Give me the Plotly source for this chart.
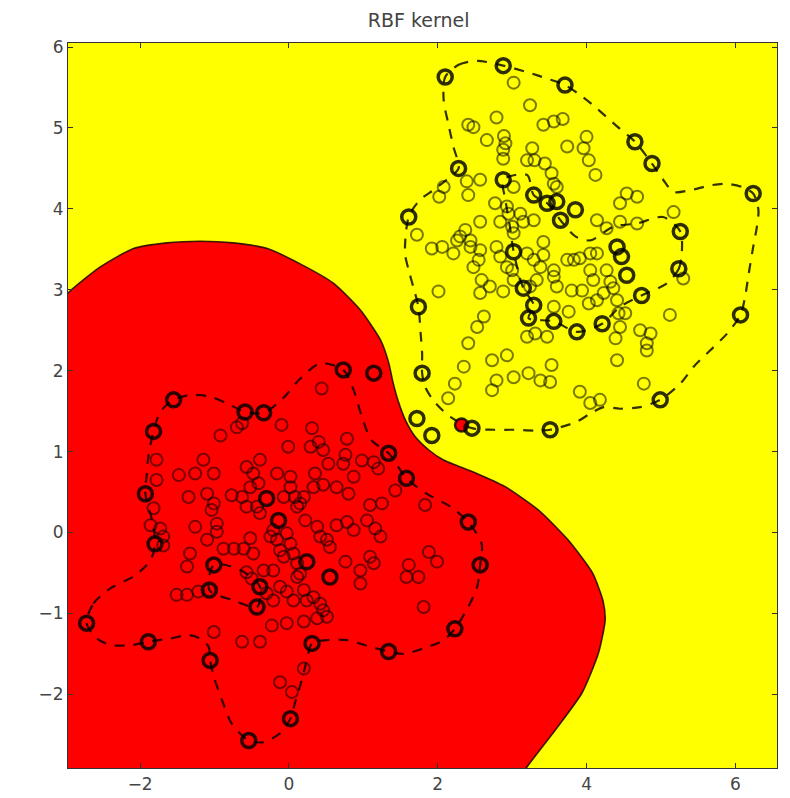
import plotly.graph_objects as go

# ---------------- data ----------------
# decision boundary (level 0), from left edge to bottom edge
boundary_x = [-3.30, -2.97, -2.54, -2.09, -1.64, -1.19, -0.75, -0.29, 0.15, 0.60, 0.96, 1.23,
              1.34, 1.40, 1.47, 1.57, 1.70, 1.88, 2.07, 2.50, 2.90, 3.35, 3.75, 4.08, 4.22,
              4.25, 4.16, 3.94, 3.58, 3.22, 3.05]
boundary_y = [2.60, 2.96, 3.28, 3.51, 3.58, 3.60, 3.58, 3.51, 3.32, 3.08, 2.75, 2.38,
              2.10, 1.85, 1.62, 1.38, 1.18, 1.02, 0.90, 0.74, 0.57, 0.28, -0.09, -0.50, -0.84,
              -1.08, -1.49, -1.98, -2.44, -2.87, -3.10]
corner_x = [-4.5, -4.5]
corner_y = [-4.5, 2.60]

# margin contours (dashed)
yel_outer_x = [2.10, 2.28, 2.53, 2.88, 3.20, 3.47, 3.71, 3.91, 4.14, 4.41, 4.65, 4.88, 5.03, 5.17,
               5.39, 5.66, 5.89, 6.09, 6.24, 6.31, 6.29, 6.24, 6.18, 6.13, 6.07, 5.89, 5.66, 5.44,
               5.26, 4.99, 4.72, 4.45, 4.23, 4.05, 3.87, 3.51, 3.29, 3.02, 2.75, 2.46, 2.17, 1.97,
               1.83, 1.79, 1.79, 1.77, 1.74, 1.67, 1.61, 1.56, 1.61, 1.76, 1.94, 2.12, 2.28, 2.21,
               2.14, 2.08, 2.10]
yel_outer_y = [5.63, 5.78, 5.83, 5.77, 5.69, 5.61, 5.53, 5.41, 5.24, 5.02, 4.83, 4.56, 4.36, 4.21,
               4.23, 4.29, 4.31, 4.27, 4.19, 3.99, 3.78, 3.53, 3.20, 2.91, 2.69, 2.46, 2.25, 2.05,
               1.84, 1.64, 1.55, 1.53, 1.55, 1.47, 1.37, 1.27, 1.26, 1.27, 1.27, 1.29, 1.43, 1.60,
               1.80, 1.97, 2.21, 2.46, 2.79, 3.04, 3.24, 3.45, 3.90, 4.11, 4.23, 4.36, 4.50, 4.77,
               5.06, 5.34, 5.63]
yel_inner_x = [5.28, 5.24, 5.08, 4.74, 4.45, 4.21, 3.87, 3.56, 3.22, 3.29, 3.15, 3.02, 2.97, 2.91,
               2.88, 3.20, 3.29, 3.47, 3.65, 3.85, 4.05, 4.36, 4.68, 5.03, 5.26, 5.28]
yel_inner_y = [3.45, 3.26, 3.08, 2.93, 2.79, 2.58, 2.48, 2.61, 2.65, 2.81, 3.02, 3.47, 3.78, 4.11,
               4.36, 4.42, 4.17, 4.07, 3.86, 3.66, 3.61, 3.78, 3.82, 3.90, 3.72, 3.45]
red_outer_x = [-2.72, -2.63, -2.40, -2.07, -1.86, -1.80, -1.84, -1.93, -1.91, -1.89, -1.82, -1.73,
               -1.55, -1.33, -1.06, -0.84, -0.59, -0.34, -0.10, 0.15, 0.42, 0.73, 0.87, 0.98, 1.11,
               1.34, 1.58, 1.85, 2.17, 2.41, 2.59, 2.57, 2.53, 2.41, 2.23, 2.08, 1.81, 1.54, 1.34,
               1.09, 0.78, 0.51, 0.31, 0.24, 0.17, 0.08, 0.02, -0.12, -0.34, -0.54, -0.77, -0.90,
               -1.01, -1.06, -1.08, -1.24, -1.37, -1.60, -1.89, -2.11, -2.40, -2.58, -2.72]
red_outer_y = [-1.12, -0.88, -0.69, -0.53, -0.34, -0.14, 0.15, 0.48, 0.73, 0.94, 1.25, 1.49,
               1.64, 1.70, 1.68, 1.60, 1.49, 1.48, 1.64, 1.90, 2.09, 2.01, 1.76, 1.43, 1.14,
               0.98, 0.67, 0.48, 0.32, 0.13, -0.14, -0.40, -0.67, -0.92, -1.19, -1.33, -1.43, -1.50,
               -1.47, -1.41, -1.33, -1.33, -1.37, -1.58, -1.83, -2.11, -2.30, -2.48, -2.59, -2.57,
               -2.36, -2.07, -1.78, -1.58, -1.41, -1.29, -1.27, -1.31, -1.35, -1.39, -1.39, -1.31,
               -1.12]
red_inner_x = [-1.01, -0.66, -0.39, -0.43, -0.74, -1.07, -1.01]
red_inner_y = [-0.40, -0.46, -0.67, -0.92, -0.84, -0.71, -0.40]

# class 0 (red) training points
red_x = [-0.92, -0.70, -0.63, -0.10, 0.31, 0.44, 0.78, -0.01, 0.29, 0.40, 0.46, 0.76, 0.73, 0.87,
         0.98, 1.14, 1.20, 0.53, 0.35, 0.33, 0.46, 0.64, 0.80, 0.20, 0.08, 0.15, 0.02, -0.16, -0.39,
         -0.57, -0.48, -0.41, -0.52, -1.15, -1.26, -1.48, -1.01, -1.35, -1.10, -1.04, -1.01, -0.77,
         -0.63, -0.57, -0.43, -0.39, -0.07, 0.02, 0.11, 0.22, -1.78, -1.78, -1.82, -1.86, -1.73,
         -1.69, -1.69, -1.26, -1.10, -0.97, -0.97, -0.88, -0.74, -0.61, -0.52, -0.48, -0.25, -0.21,
         -0.16, -0.12, -0.07, -0.03, 0.02, 0.06, 0.11, 0.15, 0.38, 0.42, 0.51, 0.55, 0.64, 0.78,
         0.87, 1.05, 1.09, 1.25, 1.16, 1.23, 0.76, 0.96, 0.96, 1.09, 1.14, 1.61, 1.58, 1.74, 1.83,
         1.88, 1.99, 1.43, 1.81, -1.33, -1.37, -1.51, -1.37, -1.22, -0.57, -0.50, -0.34, -0.21,
         -0.30, -0.21, -0.12, -0.03, 0.06, 0.11, 0.20, 0.24, 0.33, 0.42, 0.46, 0.51, 0.38, 0.20,
         -0.03, -0.23, -0.39, -0.63, -1.01, 0.20, -0.12, 0.04]
red_y = [1.20, 1.30, 1.35, 1.33, 1.29, 1.78, 1.16, 1.06, 1.06, 1.12, 1.02, 0.96, 0.85, 0.69,
         0.89, 0.87, 0.79, 0.85, 0.73, 0.56, 0.59, 0.56, 0.48, 0.44, 0.44, 0.36, 0.69, 0.73, 0.90,
         0.81, 0.73, 0.61, 0.56, 0.90, 0.73, 0.71, 0.73, 0.44, 0.48, 0.28, 0.36, 0.46,
         0.44, 0.32, 0.32, 0.24, 0.44, 0.56, 0.32, 0.15, 0.90, 0.65, 0.30, 0.09, 0.05,
         -0.05, -0.16, 0.07, -0.09, 0.11, 0.01, -0.20, -0.20, -0.20, -0.07, -0.26, -0.05, 0.03,
         -0.09, -0.22, -0.30, -0.01, -0.14, -0.26, -0.38, -0.51, 0.07, -0.05, -0.09, -0.18, 0.09, 0.13,
         0.03, 0.15, 0.34, 0.36, 0.05, -0.05, -0.36, -0.47, -0.63, -0.30, -0.38, -0.40, -0.55, -0.55, 0.34,
         -0.24, -0.36, 0.52, -0.92, -0.26, -0.42, -0.77, -0.77, -0.73, -0.49, -0.57, -0.47, -0.47,
         -0.75, -0.84, -0.67, -0.73, -0.84, -0.55, -0.71, -0.84, -0.80, -0.88, -0.96, -1.04, -1.06, -1.10,
         -1.12, -1.15, -1.35, -1.35, -1.23, -1.68, -1.85, -1.97]

# class 1 (yellow) training points
yel_x = [3.02, 3.24, 2.79, 2.41, 2.48, 3.42, 3.56, 3.68, 2.66, 2.89, 2.91, 2.88, 2.88, 3.27, 3.20,
         3.30, 3.74, 3.96, 4.00, 4.03, 4.12, 3.44, 3.53, 3.56, 3.60, 2.57, 2.39, 2.41, 2.08, 2.02,
         3.02, 2.77, 2.93, 2.95, 3.11, 3.29, 3.15, 2.84, 3.00, 3.02, 2.57, 2.37, 2.30, 2.44, 2.26,
         1.72, 1.92, 2.06, 2.21, 2.44, 2.57, 2.55, 2.48, 2.79, 2.84, 2.93, 3.00, 3.20, 3.29, 3.42,
         3.42, 3.38, 3.56, 3.74, 3.83, 3.91, 4.05, 4.14, 4.45, 4.54, 4.68, 4.45, 4.68, 4.14, 4.27,
         4.05, 4.09, 4.27, 4.32, 3.94, 3.80, 3.56, 3.60, 3.33, 3.24, 3.02, 2.88, 2.70, 2.59, 2.57,
         2.62, 2.53, 2.41, 2.35, 2.23, 2.14, 2.01, 2.73, 2.93, 2.79, 2.73, 3.02, 3.22, 3.38, 3.51,
         3.53, 3.31, 3.20, 3.47, 3.56, 3.76, 4.03, 4.14, 4.41, 4.43, 4.52, 4.45, 4.72, 4.86, 4.81,
         4.81, 4.39, 4.41, 4.77, 5.12, 3.91, 4.05, 4.18, 5.17, 5.30, 4.23, 4.36]
yel_y = [5.56, 5.28, 5.13, 5.04, 5.01, 5.04, 5.08, 5.11, 4.85, 4.90, 4.81, 4.73, 4.62, 4.75, 4.60,
         4.60, 4.77, 4.75, 4.89, 4.60, 4.42, 4.56, 4.44, 4.31, 4.27, 4.36, 4.34, 4.17, 4.27, 4.15,
         4.27, 4.07, 4.03, 3.94, 3.94, 3.86, 3.84, 3.84, 3.78, 3.70, 3.84, 3.74, 3.66, 3.61, 3.61,
         3.68, 3.51, 3.53, 3.45, 3.53, 3.49, 3.37, 3.28, 3.53, 3.41, 3.28, 3.24, 3.45, 3.37, 3.59,
         3.43, 3.28, 3.24, 3.37, 3.37, 3.39, 3.45, 3.45, 4.07, 4.19, 4.15, 3.84, 3.82, 3.86, 3.76,
         3.24, 3.12, 3.24, 3.10, 2.99, 2.99, 3.16, 3.04, 3.12, 3.04, 3.12, 2.98, 3.04, 3.12, 2.96,
         2.67, 2.54, 2.34, 2.05, 1.84, 1.66, 2.98, 2.13, 2.19, 1.88, 1.76, 1.92, 1.97, 1.88, 1.86,
         2.07, 2.46, 2.42, 2.42, 2.79, 2.73, 2.83, 2.87, 2.87, 2.71, 2.71, 2.54, 2.50, 2.46, 2.34,
         2.25, 2.40, 2.13, 1.84, 2.69, 1.74, 1.60, 1.64, 3.96, 3.14, 2.96, 3.02]

# support vectors
red_sv_x = [-1.55, -1.82, -0.59, -0.34, 0.73, 1.14, 1.34, 1.58, 2.41, 2.57, 2.23, 1.34, 0.31, 0.02,
            -0.54, -1.06, -1.89, -2.72, -1.80, -1.93, -0.30, -0.14, -1.01, -1.07, -0.39, -0.43,
            0.24, 0.55]
red_sv_y = [1.64, 1.25, 1.49, 1.48, 2.01, 1.97, 0.98, 0.67, 0.13, -0.40, -1.19, -1.47, -1.37, -2.30,
            -2.57, -1.58, -1.35, -1.12, -0.14, 0.48, 0.42, 0.15, -0.40, -0.71, -0.67, -0.92,
            -0.36, -0.55]
yel_sv_x = [2.10, 2.88, 3.71, 4.65, 4.88, 6.24, 5.26, 5.24, 6.07, 4.99, 3.51, 2.46, 1.92, 1.72, 1.79,
            1.74, 1.61, 2.28, 2.88, 3.29, 3.47, 3.60, 3.85, 3.65, 3.02, 4.41, 4.47, 4.54, 4.74, 3.15,
            3.29, 3.22, 3.56, 3.87, 4.21]
yel_sv_y = [5.63, 5.77, 5.53, 4.83, 4.56, 4.19, 3.72, 3.26, 2.69, 1.64, 1.27, 1.29, 1.20, 1.41, 1.97,
            2.79, 3.90, 4.50, 4.36, 4.17, 4.07, 4.09, 3.99, 3.86, 3.47, 3.53, 3.41, 3.18, 2.93, 3.02,
            2.81, 2.65, 2.61, 2.48, 2.58]
island_x = [2.32]
island_y = [1.33]

x_ticks = [-2, 0, 2, 4, 6]
y_ticks = [-2, -1, 0, 1, 2, 3, 4, 5, 6]
x_range = [-2.97, 6.56]
y_range = [-2.91, 6.05]

# ---------------- figure ----------------
RED = "#ff0000"
YEL = "#ffff00"
DASH = dict(color="rgba(0,0,0,0.8)", width=2.2, dash="10px,9px", shape="spline", smoothing=0.8)

fig = go.Figure()
fig.add_trace(go.Scatter(x=boundary_x + corner_x, y=boundary_y + corner_y, mode="lines",
                         fill="toself", fillcolor=RED, line=dict(width=0, shape="spline", smoothing=0.6),
                         hoverinfo="skip", showlegend=False))
fig.add_trace(go.Scatter(x=boundary_x, y=boundary_y, mode="lines",
                         line=dict(color="rgba(40,10,0,0.9)", width=1.6, shape="spline", smoothing=0.6),
                         hoverinfo="skip", showlegend=False))
for cx, cy in [(yel_outer_x, yel_outer_y), (yel_inner_x, yel_inner_y),
               (red_outer_x, red_outer_y), (red_inner_x, red_inner_y)]:
    fig.add_trace(go.Scatter(x=cx, y=cy, mode="lines", line=DASH, hoverinfo="skip", showlegend=False))

pt_marker = dict(symbol="circle-open", size=12, color="rgba(0,0,0,0.52)", line=dict(width=2))
fig.add_trace(go.Scatter(x=red_x, y=red_y, mode="markers", marker=pt_marker, showlegend=False))
fig.add_trace(go.Scatter(x=yel_x, y=yel_y, mode="markers", marker=pt_marker, showlegend=False))
fig.add_trace(go.Scatter(x=island_x, y=island_y, mode="markers", showlegend=False,
                         marker=dict(symbol="circle", size=13, color=RED,
                                     line=dict(width=2.5, color="rgba(0,0,0,0.8)"))))
sv_marker = dict(symbol="circle-open", size=14, color="rgba(0,0,0,0.82)", line=dict(width=3.5))
fig.add_trace(go.Scatter(x=red_sv_x, y=red_sv_y, mode="markers", marker=sv_marker, showlegend=False))
fig.add_trace(go.Scatter(x=yel_sv_x, y=yel_sv_y, mode="markers", marker=sv_marker, showlegend=False))

axis_common = dict(showgrid=False, zeroline=False, showline=True, mirror="ticks",
                   linecolor="#333333", linewidth=1.2, ticks="inside", ticklen=5,
                   tickcolor="#333333", tickwidth=1, automargin=False,
                   tickfont=dict(family="DejaVu Sans", size=17, color="#444444"))
fig.update_layout(
    width=790, height=798,
    margin=dict(l=68, r=13, t=43, b=30, autoexpand=False),
    paper_bgcolor="white", plot_bgcolor=YEL,
    title=dict(text="RBF kernel", x=0.53, xanchor="center", y=0.975, yanchor="middle",
               font=dict(family="DejaVu Sans", size=19, color="#444444")),
    xaxis=dict(range=x_range, tickvals=x_ticks, **axis_common),
    yaxis=dict(range=y_range, tickvals=y_ticks, **axis_common),
)
fig.write_html("out.html")
